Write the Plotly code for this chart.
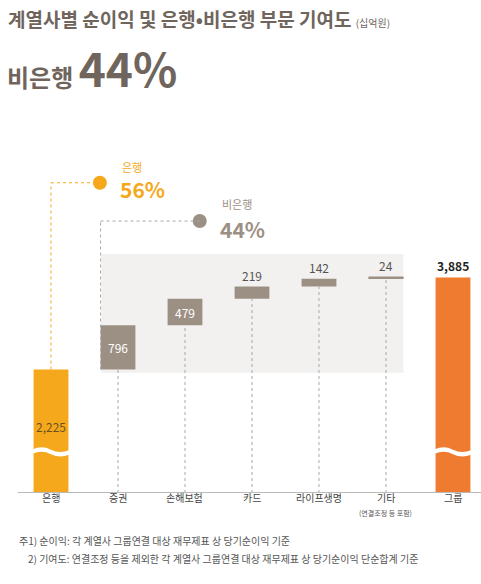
import plotly.graph_objects as go

categories = ["은행", "증권", "손해보험", "카드", "라이프생명", "기타", "그룹"]
values = [2225, 796, 479, 219, 142, 24, 3885]
labels = ["2,225", "796", "479", "219", "142", "24", "3,885"]

BANK = "#F5A81C"
GROUP = "#EE7B30"
GRAY = "#9C9085"
TXT = "#6F655D"

# waterfall bases
bases = [0]
run = values[0]
for v in values[1:-1]:
    bases.append(run)
    run += v
bases.append(0)

x = list(range(len(categories)))
colors = [BANK] + [GRAY] * 5 + [GROUP]

fig = go.Figure()

# light gray non-bank region
fig.add_shape(type="rect", x0=0.75, x1=5.26, y0=values[0] - 60, y1=4306,
              fillcolor="#F2F1F0", line_width=0, layer="below")

fig.add_trace(go.Bar(x=x, y=values, base=bases, width=0.52,
                     marker=dict(color=colors, line_width=0), showlegend=False,
                     hoverinfo="skip"))

# "기타" drawn as thin line
fig.add_shape(type="line", x0=4.74, x1=5.26, y0=bases[5] + 24, y1=bases[5] + 24,
              line=dict(color=GRAY, width=2))

# dotted drops
for i in range(1, 6):
    fig.add_shape(type="line", x0=i, x1=i, y0=0, y1=bases[i],
                  line=dict(color="#A8A8A8", width=1, dash="dot"), layer="below")

# connectors
fig.add_shape(type="line", x0=0, x1=0, y0=values[0], y1=5590, line=dict(color=BANK, width=1, dash="dot"))
fig.add_shape(type="line", x0=0, x1=0.73, y0=5590, y1=5590, line=dict(color=BANK, width=1, dash="dot"))
fig.add_shape(type="line", x0=0.74, x1=0.74, y0=values[0], y1=4900, line=dict(color="#A8A8A8", width=1, dash="dot"))
fig.add_shape(type="line", x0=0.74, x1=2.22, y0=4900, y1=4900, line=dict(color="#A8A8A8", width=1, dash="dot"))
fig.add_trace(go.Scatter(x=[0.73, 2.22], y=[5590, 4900], mode="markers",
                         marker=dict(color=[BANK, GRAY], size=14), showlegend=False, hoverinfo="skip"))

# wave breaks
for xi in (0, 6):
    a, b = xi - 0.27, xi + 0.27
    path = (f"M {a},790 Q {xi-0.13},860 {xi},780 Q {xi+0.13},700 {b},770 "
            f"L {b},690 Q {xi+0.13},620 {xi},700 Q {xi-0.13},780 {a},710 Z")
    fig.add_shape(type="path", path=path, fillcolor="white", line_width=0)

# value labels
fig.add_annotation(x=0, y=1190, text=labels[0], showarrow=False, font=dict(size=12, color="#6B5320"))
fig.add_annotation(x=1, y=bases[1] + 398, text=labels[1], showarrow=False, font=dict(size=12, color="white"))
fig.add_annotation(x=2, y=bases[2] + 240, text=labels[2], showarrow=False, font=dict(size=12, color="white"))
for i in (3, 4, 5):
    fig.add_annotation(x=i, y=bases[i] + values[i], text=labels[i], showarrow=False, yanchor="bottom",
                       yshift=1, font=dict(size=12, color="#555"))
fig.add_annotation(x=6, y=values[6], text="<b>" + labels[6] + "</b>", showarrow=False, yanchor="bottom",
                   yshift=1, font=dict(size=12, color="#222"))

fig.add_annotation(x=1.03, y=5870, text="은행", showarrow=False, xanchor="left", font=dict(size=11, color=BANK))
fig.add_annotation(x=1.0, y=5480, text="<b>56%</b>", showarrow=False, xanchor="left", font=dict(size=21, color=BANK))
fig.add_annotation(x=2.52, y=5200, text="비은행", showarrow=False, xanchor="left", font=dict(size=11, color=GRAY))
fig.add_annotation(x=2.5, y=4760, text="<b>44%</b>", showarrow=False, xanchor="left", font=dict(size=21, color=GRAY))

# x labels
for i, c in enumerate(categories):
    fig.add_annotation(x=i, y=-0.042, yref="paper", text=c, showarrow=False, font=dict(size=10, color="#444"))
fig.add_annotation(x=5, y=-0.082, yref="paper", text="(연결조정 등 포함)", showarrow=False, font=dict(size=7, color="#555"))

# titles
fig.add_annotation(x=0.012, y=1.47, xref="paper", yref="paper", xanchor="left",
                   text="<b>계열사별 순이익 및 은행•비은행 부문 기여도</b> <span style='font-size:10px'>(십억원)</span>",
                   showarrow=False, font=dict(size=19, color=TXT))
fig.add_annotation(x=0.01, y=1.28, xref="paper", yref="paper", xanchor="left", yanchor="middle",
                   text="<b>비은행</b> <b><span style='font-size:46px'>44%</span></b>",
                   showarrow=False, font=dict(size=24, color=TXT))

# footnotes
fig.add_annotation(x=0.035, y=-0.17, xref="paper", yref="paper", xanchor="left",
                   text="주1) 순이익: 각 계열사 그룹연결 대상 재무제표 상 당기순이익 기준",
                   showarrow=False, font=dict(size=10, color="#555"))
fig.add_annotation(x=0.035, y=-0.224, xref="paper", yref="paper", xanchor="left",
                   text="    2) 기여도: 연결조정 등을 제외한 각 계열사 그룹연결 대상 재무제표 상 당기순이익 단순합계 기준",
                   showarrow=False, font=dict(size=10, color="#555"))

# baseline
fig.add_shape(type="line", x0=-0.5, x1=6.5, y0=0, y1=0, line=dict(color="#BBB", width=2))

fig.update_layout(
    width=481, height=584,
    margin=dict(l=0, r=0, t=160, b=91),
    plot_bgcolor="white", paper_bgcolor="white",
    font=dict(family="Noto Sans CJK KR"),
)
fig.update_xaxes(range=[-0.761, 6.418], showgrid=False, zeroline=False, showticklabels=False, fixedrange=True)
fig.update_yaxes(range=[0, 6000], showgrid=False, zeroline=False, showticklabels=False, fixedrange=True)

fig.write_html("out.html", config={"displayModeBar": False},
               post_script="document.body.style.margin='0';document.body.style.overflow='hidden';")
